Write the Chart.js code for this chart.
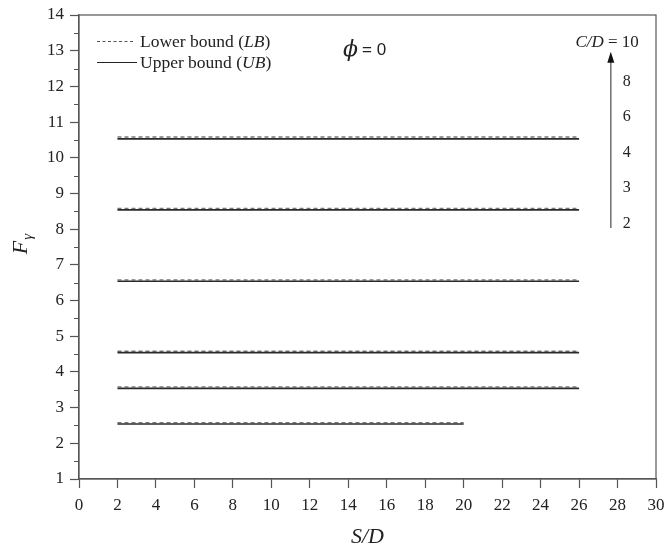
<!DOCTYPE html>
<html>
<head>
<meta charset="utf-8">
<script src="https://cdn.jsdelivr.net/npm/chart.js@4.4.1/dist/chart.umd.min.js"></script>
<style>
html,body{margin:0;padding:0;background:#fff;}
#wrap{width:667px;height:554px;}
</style>
</head>
<body>
<div id="wrap"><canvas id="c" width="667" height="554"></canvas></div>
<script>
// S/D values
const sdLong  = [2,4,6,8,10,12,14,16,18,20,22,24,26];
const sdShort = [2,4,6,8,10,12,14,16,18,20];
// C/D labels (bottom to top)
const cdLabels = ['2','3','4','6','8','10'];
// Lower bound (LB) values, dashed
const lbCD2  = [2.58,2.58,2.58,2.58,2.58,2.58,2.58,2.58,2.58,2.58];
const lbCD3  = [3.58,3.58,3.58,3.58,3.58,3.58,3.58,3.58,3.58,3.58,3.58,3.58,3.58];
const lbCD4  = [4.58,4.58,4.58,4.58,4.58,4.58,4.58,4.58,4.58,4.58,4.58,4.58,4.58];
const lbCD6  = [6.58,6.58,6.58,6.58,6.58,6.58,6.58,6.58,6.58,6.58,6.58,6.58,6.58];
const lbCD8  = [8.58,8.58,8.58,8.58,8.58,8.58,8.58,8.58,8.58,8.58,8.58,8.58,8.58];
const lbCD10 = [10.58,10.58,10.58,10.58,10.58,10.58,10.58,10.58,10.58,10.58,10.58,10.58,10.58];
// Upper bound (UB) values, solid
const ubCD2  = [2.54,2.54,2.54,2.54,2.54,2.54,2.54,2.54,2.54,2.54];
const ubCD3  = [3.54,3.54,3.54,3.54,3.54,3.54,3.54,3.54,3.54,3.54,3.54,3.54,3.54];
const ubCD4  = [4.54,4.54,4.54,4.54,4.54,4.54,4.54,4.54,4.54,4.54,4.54,4.54,4.54];
const ubCD6  = [6.54,6.54,6.54,6.54,6.54,6.54,6.54,6.54,6.54,6.54,6.54,6.54,6.54];
const ubCD8  = [8.54,8.54,8.54,8.54,8.54,8.54,8.54,8.54,8.54,8.54,8.54,8.54,8.54];
const ubCD10 = [10.53,10.53,10.53,10.53,10.53,10.53,10.53,10.53,10.53,10.53,10.53,10.53,10.53];
// axis ranges
const xMin = 0, xMax = 30, xStep = 2;
const yMin = 1, yMax = 14, yStep = 1;
// annotation positions in data units
const arrowX = 27.65, arrowY0 = 8.03, arrowY1 = 12.97;
const cdLabelY = [8.15, 9.16, 10.14, 11.15, 12.13, 13.22];

const SERIF = '"Liberation Serif", "Times New Roman", serif';
const SANS = '"Liberation Sans", Arial, sans-serif';

function pts(xs, ys){ return xs.map((x,i)=>({x:x, y:ys[i]})); }

const lbSets = [[sdShort,lbCD2],[sdLong,lbCD3],[sdLong,lbCD4],[sdLong,lbCD6],[sdLong,lbCD8],[sdLong,lbCD10]];
const ubSets = [[sdShort,ubCD2],[sdLong,ubCD3],[sdLong,ubCD4],[sdLong,ubCD6],[sdLong,ubCD8],[sdLong,ubCD10]];

const datasets = [];
ubSets.forEach((s,i)=>datasets.push({
  label:'UB C/D='+cdLabels[i], data:pts(s[0],s[1]),
  borderColor:'#2a2a2a', borderWidth:1.6, pointRadius:0, fill:false, tension:0
}));
lbSets.forEach((s,i)=>datasets.push({
  label:'LB C/D='+cdLabels[i], data:pts(s[0],s[1]),
  borderColor:'#777', borderWidth:1.4, borderDash:[4,3], pointRadius:0, fill:false, tension:0
}));

const decor = {
  id:'decor',
  afterDraw(chart){
    const ctx = chart.ctx, a = chart.chartArea;
    const xs = chart.scales.x, ys = chart.scales.y;
    ctx.save();
    // frame
    ctx.strokeStyle = '#555'; ctx.lineWidth = 1.2;
    ctx.strokeRect(a.left, a.top, a.right-a.left, a.bottom-a.top);
    // minor y ticks
    ctx.beginPath();
    for(let v = yMin+0.5; v < yMax; v += 1){
      const py = Math.round(ys.getPixelForValue(v))+0.5;
      ctx.moveTo(a.left-5, py); ctx.lineTo(a.left, py);
    }
    ctx.stroke();
    // arrow
    const ax = xs.getPixelForValue(arrowX);
    const ay0 = ys.getPixelForValue(arrowY0), ay1 = ys.getPixelForValue(arrowY1);
    ctx.strokeStyle = '#777'; ctx.lineWidth = 1.6;
    ctx.beginPath(); ctx.moveTo(ax, ay0); ctx.lineTo(ax, ay1+8); ctx.stroke();
    ctx.fillStyle = '#111';
    ctx.beginPath(); ctx.moveTo(ax, ay1); ctx.lineTo(ax-3.5, ay1+11); ctx.lineTo(ax+3.5, ay1+11); ctx.closePath(); ctx.fill();
    // C/D labels
    ctx.fillStyle = '#222'; ctx.textBaseline = 'middle'; ctx.textAlign = 'left';
    ctx.font = '16px ' + SERIF;
    for(let i=0;i<cdLabels.length-1;i++){
      ctx.fillText(cdLabels[i], ax+12, ys.getPixelForValue(cdLabelY[i]));
    }
    const ty = ys.getPixelForValue(cdLabelY[5]);
    ctx.textAlign = 'right';
    ctx.font = '17px ' + SERIF;
    ctx.fillText(' = 10', ax+28, ty);
    const eqW = ctx.measureText(' = 10').width;
    ctx.font = 'italic 17px ' + SERIF;
    ctx.fillText('C/D', ax+28-eqW, ty);
    // legend
    ctx.textAlign = 'left';
    ctx.strokeStyle = '#555'; ctx.lineWidth = 1.2;
    ctx.setLineDash([3,2.5]);
    ctx.beginPath(); ctx.moveTo(97, 41.5); ctx.lineTo(133, 41.5); ctx.stroke();
    ctx.setLineDash([]);
    ctx.strokeStyle = '#222';
    ctx.beginPath(); ctx.moveTo(97, 62.5); ctx.lineTo(137, 62.5); ctx.stroke();
    function mixed(parts, x, y){
      let cx = x;
      parts.forEach(p=>{ ctx.font = (p[1]?'italic ':'') + '17.5px ' + SERIF; ctx.fillText(p[0], cx, y); cx += ctx.measureText(p[0]).width; });
    }
    ctx.fillStyle = '#222';
    mixed([['Lower bound (',0],['LB',1],[')',0]], 140, 42);
    mixed([['Upper bound (',0],['UB',1],[')',0]], 140, 63);
    // phi = 0
    ctx.font = 'italic 22px "DejaVu Serif", serif';
    ctx.fillText('\u03D5', 343, 50);
    ctx.font = '17px ' + SANS;
    ctx.fillText('= 0', 362, 50);
    // x title
    ctx.textAlign = 'center'; ctx.textBaseline = 'middle';
    ctx.font = 'italic 22px ' + SERIF;
    ctx.fillText('S/D', (a.left+a.right)/2, 537);
    // y title rotated
    ctx.translate(27, 244);
    ctx.rotate(-Math.PI/2);
    ctx.textAlign = 'left'; ctx.textBaseline = 'alphabetic';
    ctx.font = 'italic 22px ' + SERIF;
    const fw = ctx.measureText('F').width;
    ctx.font = 'italic 15px ' + SERIF;
    const gw = ctx.measureText('\u03B3').width;
    const tot = fw + gw + 1;
    ctx.font = 'italic 22px ' + SERIF;
    ctx.fillText('F', -tot/2, 0);
    ctx.font = 'italic 15px ' + SERIF;
    ctx.fillText('\u03B3', -tot/2 + fw + 1, 5);
    ctx.restore();
  }
};

new Chart(document.getElementById('c'), {
  type:'line',
  data:{datasets:datasets},
  options:{
    responsive:false, animation:false,
    layout:{padding:{left:0, right:11, top:15, bottom:0}},
    plugins:{legend:{display:false}, tooltip:{enabled:false}},
    scales:{
      x:{
        type:'linear', min:xMin, max:xMax,
        ticks:{stepSize:xStep, color:'#222', font:{family:SERIF, size:17}, padding:7, maxRotation:0, autoSkip:false},
        grid:{display:true, drawOnChartArea:false, drawTicks:true, tickLength:9, tickColor:'#555', tickWidth:1.2},
        border:{display:true, color:'#555', width:1.2},
        afterFit(s){ s.height = 75; s.paddingLeft = 0; s.paddingRight = 0; }
      },
      y:{
        type:'linear', min:yMin, max:yMax,
        ticks:{stepSize:yStep, color:'#222', font:{family:SERIF, size:17}, padding:6, autoSkip:false},
        grid:{display:true, drawOnChartArea:false, drawTicks:true, tickLength:9, tickColor:'#555', tickWidth:1.2},
        border:{display:true, color:'#555', width:1.2},
        afterFit(s){ s.width = 79; s.paddingTop = 0; s.paddingBottom = 0; }
      }
    }
  },
  plugins:[decor]
});
</script>
</body>
</html>
